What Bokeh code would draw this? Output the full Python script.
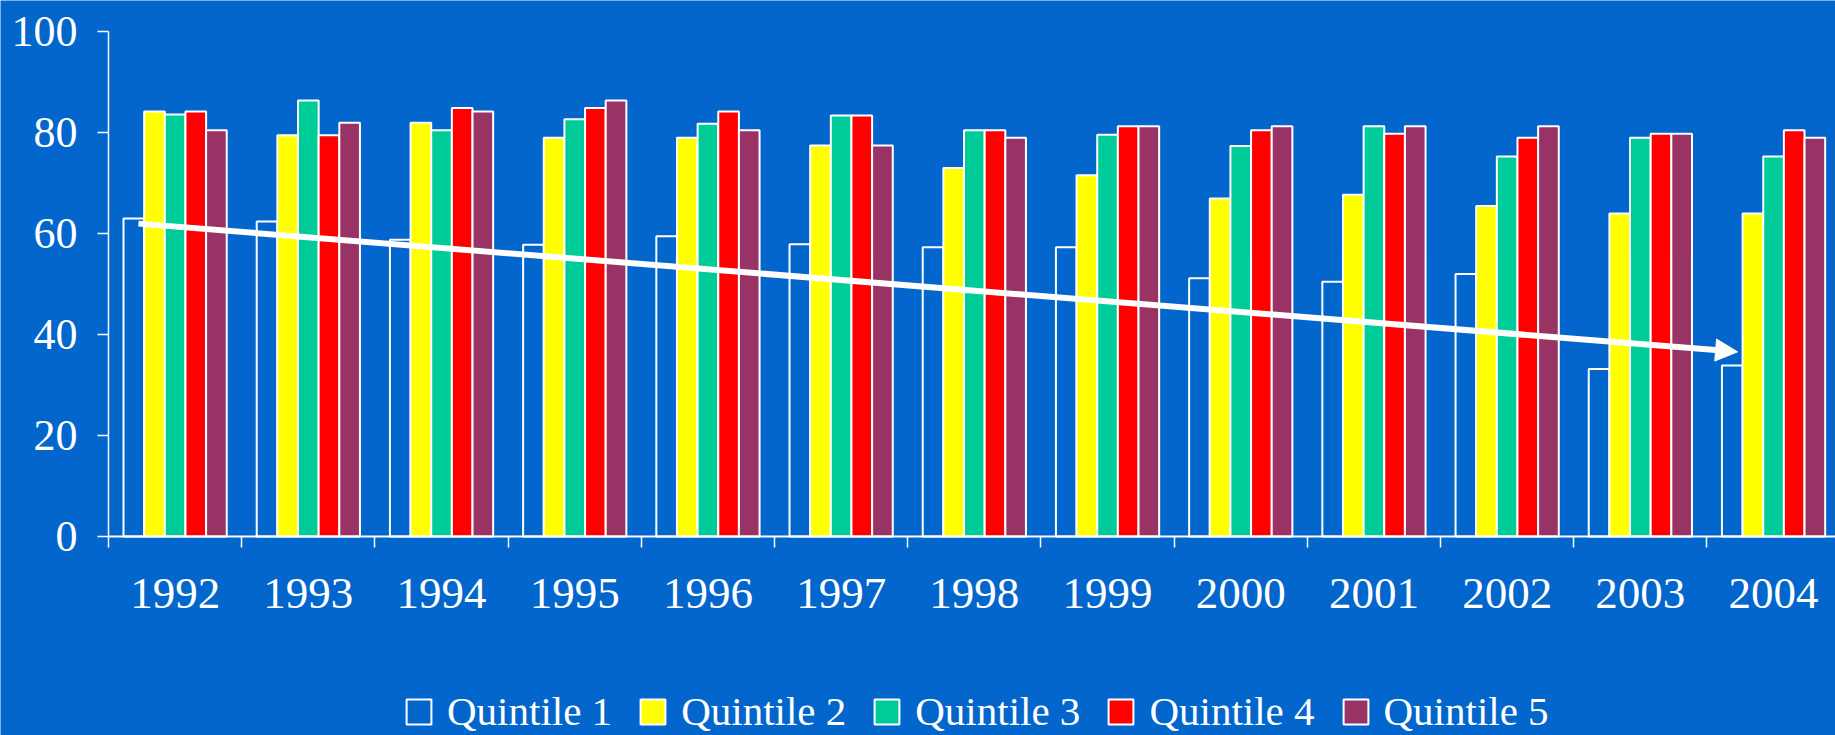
from bokeh.plotting import figure
from bokeh.models import Range1d, FixedTicker, Legend, LegendItem, Arrow, NormalHead
from bokeh.embed import file_html
from bokeh.resources import INLINE

years = ["1992", "1993", "1994", "1995", "1996", "1997", "1998",
         "1999", "2000", "2001", "2002", "2003", "2004"]
quintile_1 = [63.0, 62.4, 58.8, 57.8, 59.5, 57.9, 57.3, 57.3, 51.2, 50.5, 52.0, 33.2, 33.9]
quintile_2 = [84.2, 79.5, 82.0, 79.0, 79.0, 77.5, 73.0, 71.6, 67.0, 67.7, 65.5, 64.0, 64.0]
quintile_3 = [83.6, 86.4, 80.5, 82.7, 81.8, 83.4, 80.5, 79.6, 77.4, 81.3, 75.3, 79.0, 75.3]
quintile_4 = [84.2, 79.5, 84.9, 84.9, 84.2, 83.4, 80.5, 81.3, 80.5, 79.8, 79.0, 79.8, 80.5]
quintile_5 = [80.5, 82.0, 84.2, 86.4, 80.5, 77.5, 79.0, 81.3, 81.3, 81.3, 81.3, 79.8, 79.0]
series_names = ["Quintile 1", "Quintile 2", "Quintile 3", "Quintile 4", "Quintile 5"]
# trend arrow: (category position, value) at start and end
trend_x = [0.225, 12.23]
trend_y = [62.0, 36.6]

BG = "#0366CC"
fills = [BG, "#FFFF00", "#00CC99", "#FF0000", "#993366"]
FONT = "Liberation Serif"
BAR_W = 0.155

p = figure(width=1835, height=735, output_backend="svg", toolbar_location=None,
           x_range=Range1d(-0.811, 12.965), y_range=Range1d(-39.4, 106.2),
           min_border_left=0, min_border_right=0, min_border_top=0,
           min_border_bottom=0)
p.background_fill_color = BG
p.border_fill_color = BG
p.outline_line_color = None
p.grid.visible = False

series = [quintile_1, quintile_2, quintile_3, quintile_4, quintile_5]
items = []
for j, vals in enumerate(series):
    xs = [i + 0.5 + (j - 2) * BAR_W for i in range(len(years))]
    r = p.vbar(x=xs, top=vals, bottom=0, width=BAR_W, fill_color=fills[j],
               line_color="white", line_width=2)
    items.append(LegendItem(label=series_names[j], renderers=[r]))

p.add_layout(Arrow(end=NormalHead(size=22, fill_color="white", line_color="white", line_width=1),
                   x_start=trend_x[0], y_start=trend_y[0],
                   x_end=trend_x[1], y_end=trend_y[1],
                   line_color="white", line_width=6))

# y axis
p.yaxis.fixed_location = 0
p.yaxis.ticker = FixedTicker(ticks=[0, 20, 40, 60, 80, 100])
p.yaxis.bounds = (0, 100)
p.yaxis.axis_line_color = "white"
p.yaxis.axis_line_width = 1.5
p.yaxis.major_tick_line_color = "white"
p.yaxis.major_tick_line_width = 1.5
p.yaxis.major_tick_out = 11
p.yaxis.major_tick_in = 0
p.yaxis.minor_tick_line_color = None
p.yaxis.major_label_text_color = "white"
p.yaxis.major_label_text_font = FONT
p.yaxis.major_label_text_font_size = "44px"
p.yaxis.major_label_standoff = 20

# x axis
centers = [i + 0.5 for i in range(len(years))]
bounds = [i for i in range(len(years) + 1)]
p.xaxis.fixed_location = 0
p.xaxis.bounds = (0, len(years))
p.xaxis.ticker = FixedTicker(ticks=centers, minor_ticks=bounds)
p.xaxis.major_label_overrides = {c: y for c, y in zip(centers, years)}
p.xaxis.axis_line_color = "white"
p.xaxis.axis_line_width = 2
p.xaxis.major_tick_line_color = None
p.xaxis.major_tick_out = 11
p.xaxis.major_tick_in = 0
p.xaxis.minor_tick_line_color = "white"
p.xaxis.minor_tick_line_width = 1.5
p.xaxis.minor_tick_out = 11
p.xaxis.minor_tick_in = 0
p.xaxis.major_label_text_color = "white"
p.xaxis.major_label_text_font = FONT
p.xaxis.major_label_text_font_size = "45px"
p.xaxis.major_label_standoff = 31

legend = Legend(items=items, orientation="horizontal", location=(403, 0),
                background_fill_alpha=0, border_line_alpha=0,
                label_text_color="white", label_text_font=FONT,
                label_text_font_size="41px", label_text_line_height=1.0,
                glyph_width=31, glyph_height=31,
                label_standoff=13, spacing=25, margin=0, padding=0)
p.add_layout(legend, "center")

html = file_html(p, INLINE)
open("out.html", "w").write(html)
